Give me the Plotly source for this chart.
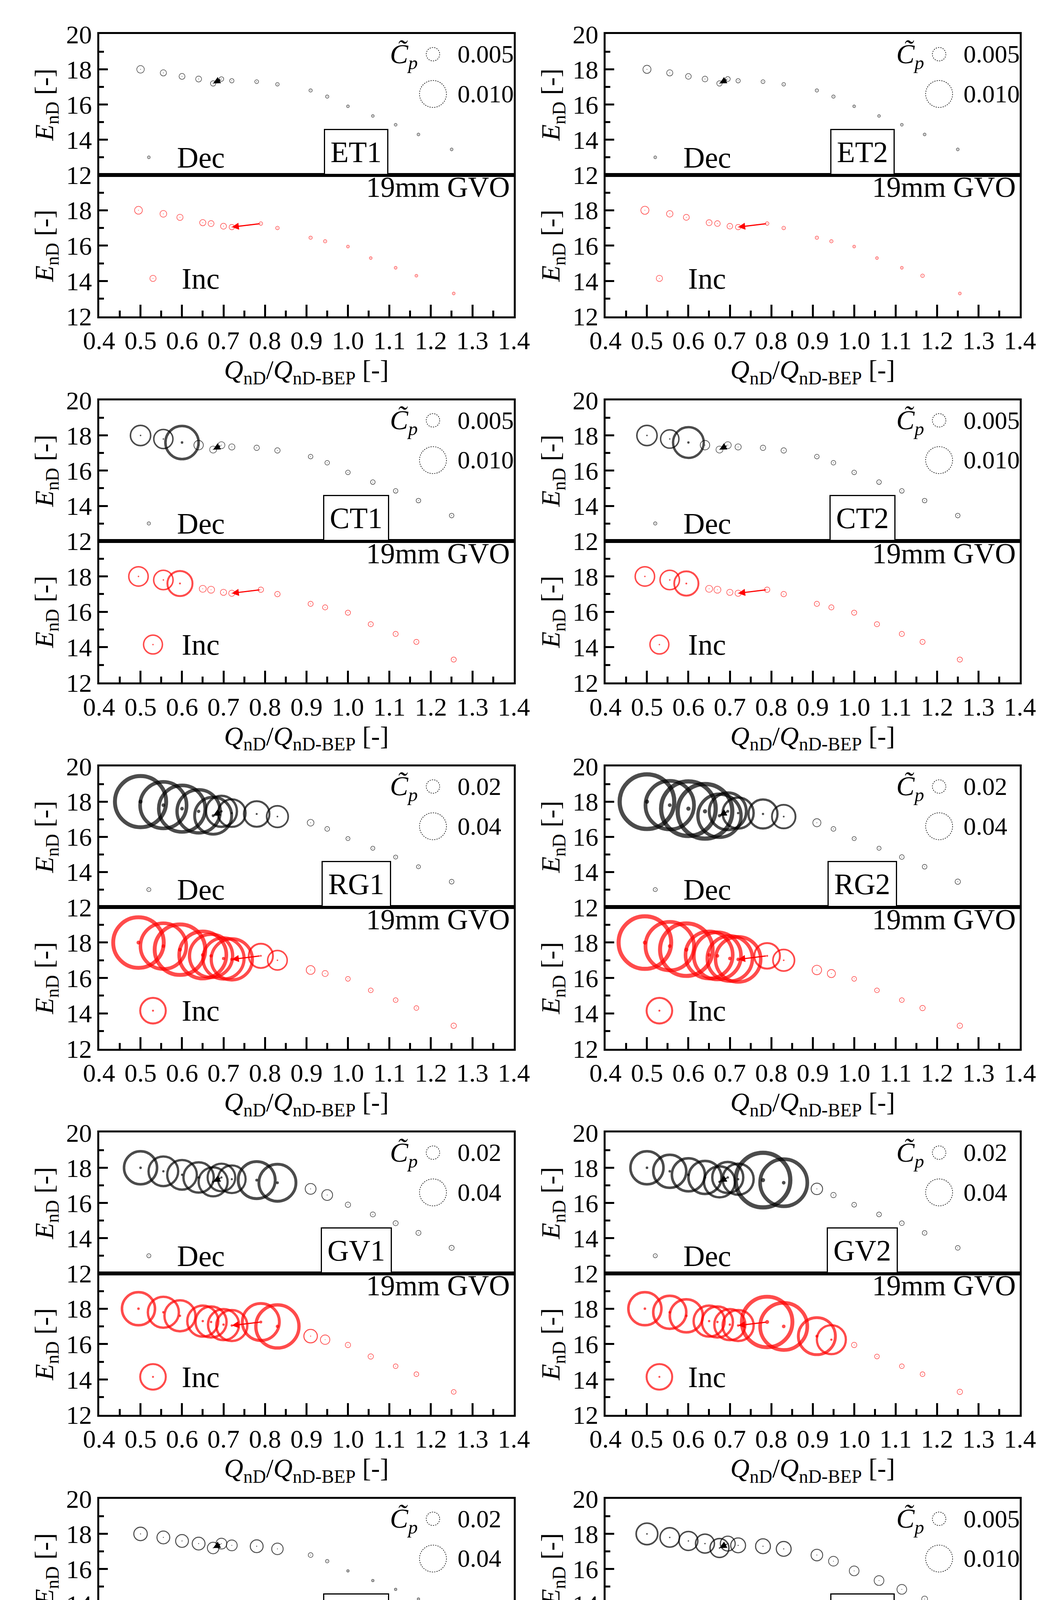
import plotly.graph_objects as go

W, H = 2690, 5697
FONT = "Liberation Serif"

# ---------------- data ----------------
panel_names = ["ET1", "ET2", "CT1", "CT2", "RG1", "RG2", "GV1", "GV2", "SV1", "SC1", "TC1", "BS1"]
legend_low = ["0.005", "0.005", "0.005", "0.005", "0.02", "0.02", "0.02", "0.02", "0.02", "0.005", "0.005", "0.005"]
legend_high = ["0.010", "0.010", "0.010", "0.010", "0.04", "0.04", "0.04", "0.04", "0.04", "0.010", "0.010", "0.010"]
legend_low_val = [0.005, 0.005, 0.005, 0.005, 0.02, 0.02, 0.02, 0.02, 0.02, 0.005, 0.005, 0.005]
legend_high_val = [0.010, 0.010, 0.010, 0.010, 0.04, 0.04, 0.04, 0.04, 0.04, 0.010, 0.010, 0.010]

q_dec = [0.50, 0.555, 0.60, 0.64, 0.675, 0.695, 0.72, 0.78, 0.83, 0.91, 0.95, 1.00, 1.06, 1.115, 1.17, 1.25]
e_dec = [18.0, 17.8, 17.6, 17.45, 17.2, 17.45, 17.35, 17.3, 17.15, 16.8, 16.45, 15.9, 15.35, 14.85, 14.3, 13.45]
q_inc = [0.495, 0.555, 0.595, 0.65, 0.67, 0.70, 0.72, 0.79, 0.83, 0.91, 0.945, 1.00, 1.055, 1.115, 1.165, 1.255]
e_inc = [18.0, 17.8, 17.6, 17.3, 17.25, 17.1, 17.05, 17.25, 17.0, 16.45, 16.25, 15.95, 15.3, 14.75, 14.3, 13.3]

cp_dec_ET1 = [0.0028, 0.0023, 0.0022, 0.0022, 0.0020, 0.0017, 0.0016, 0.0014, 0.0013, 0.0012, 0.0012, 0.0010, 0.0010, 0.0010, 0.0010, 0.0010]
cp_inc_ET1 = [0.0029, 0.0025, 0.0023, 0.0023, 0.0022, 0.0022, 0.0020, 0.0013, 0.0013, 0.0012, 0.0012, 0.0010, 0.0010, 0.0010, 0.0010, 0.0010]
cp_dec_ET2 = [0.0030, 0.0023, 0.0021, 0.0021, 0.0020, 0.0018, 0.0016, 0.0014, 0.0013, 0.0012, 0.0012, 0.0010, 0.0010, 0.0010, 0.0010, 0.0010]
cp_inc_ET2 = [0.0030, 0.0024, 0.0022, 0.0022, 0.0021, 0.0021, 0.0020, 0.0013, 0.0013, 0.0012, 0.0012, 0.0010, 0.0010, 0.0010, 0.0013, 0.0010]
cp_dec_CT1 = [0.0075, 0.0071, 0.0123, 0.0035, 0.0026, 0.0026, 0.0023, 0.0020, 0.0020, 0.0017, 0.0017, 0.0017, 0.0017, 0.0017, 0.0017, 0.0017]
cp_inc_CT1 = [0.0072, 0.0072, 0.0093, 0.0026, 0.0026, 0.0023, 0.0023, 0.0020, 0.0020, 0.0019, 0.0019, 0.0019, 0.0019, 0.0019, 0.0019, 0.0019]
cp_dec_CT2 = [0.0075, 0.0068, 0.0114, 0.0035, 0.0026, 0.0026, 0.0023, 0.0020, 0.0020, 0.0017, 0.0017, 0.0017, 0.0017, 0.0017, 0.0017, 0.0017]
cp_inc_CT2 = [0.0072, 0.0072, 0.0090, 0.0026, 0.0026, 0.0023, 0.0023, 0.0020, 0.0020, 0.0019, 0.0019, 0.0019, 0.0019, 0.0019, 0.0019, 0.0019]
cp_dec_RG1 = [0.076, 0.069, 0.069, 0.064, 0.055, 0.046, 0.041, 0.038, 0.032, 0.010, 0.007, 0.006, 0.006, 0.006, 0.006, 0.007]
cp_inc_RG1 = [0.075, 0.068, 0.075, 0.070, 0.064, 0.061, 0.061, 0.036, 0.029, 0.013, 0.009, 0.007, 0.007, 0.007, 0.007, 0.008]
cp_dec_RG2 = [0.081, 0.072, 0.081, 0.081, 0.064, 0.055, 0.046, 0.043, 0.035, 0.012, 0.007, 0.006, 0.006, 0.007, 0.007, 0.008]
cp_inc_RG2 = [0.078, 0.072, 0.078, 0.070, 0.070, 0.067, 0.067, 0.038, 0.032, 0.014, 0.012, 0.007, 0.007, 0.007, 0.008, 0.008]
cp_dec_GV1 = [0.049, 0.044, 0.044, 0.045, 0.043, 0.041, 0.041, 0.055, 0.055, 0.016, 0.016, 0.008, 0.0075, 0.0075, 0.0075, 0.0075]
cp_inc_GV1 = [0.049, 0.046, 0.046, 0.046, 0.046, 0.046, 0.046, 0.055, 0.064, 0.020, 0.014, 0.008, 0.008, 0.007, 0.007, 0.007]
cp_dec_GV2 = [0.049, 0.049, 0.049, 0.049, 0.046, 0.046, 0.046, 0.081, 0.070, 0.017, 0.008, 0.007, 0.007, 0.007, 0.007, 0.007]
cp_inc_GV2 = [0.049, 0.049, 0.049, 0.046, 0.046, 0.046, 0.046, 0.075, 0.070, 0.055, 0.043, 0.008, 0.007, 0.007, 0.007, 0.008]
cp_dec_SV1 = [0.020, 0.019, 0.019, 0.019, 0.017, 0.016, 0.016, 0.019, 0.017, 0.007, 0.005, 0.0035, 0.0035, 0.0035, 0.0035, 0.0035]
cp_inc_SV1 = [0.020, 0.020, 0.020, 0.019, 0.019, 0.019, 0.023, 0.023, 0.020, 0.017, 0.013, 0.005, 0.0035, 0.0035, 0.0035, 0.0035]
cp_dec_SC1 = [0.0080, 0.0072, 0.0070, 0.0070, 0.0070, 0.0055, 0.0055, 0.0055, 0.0055, 0.0043, 0.0036, 0.0036, 0.0036, 0.0036, 0.0022, 0.0017]
cp_inc_SC1 = [0.0080, 0.0072, 0.0072, 0.0070, 0.0070, 0.0065, 0.0065, 0.0058, 0.0051, 0.0043, 0.0041, 0.0036, 0.0036, 0.0036, 0.0036, 0.0020]
cp_dec_TC1 = [0.0058, 0.0055, 0.0051, 0.0048, 0.0043, 0.0041, 0.0036, 0.0036, 0.0029, 0.0026, 0.0020, 0.0020, 0.0020, 0.0020, 0.0014, 0.0014]
cp_inc_TC1 = [0.0058, 0.0055, 0.0055, 0.0043, 0.0043, 0.0041, 0.0041, 0.0036, 0.0026, 0.0036, 0.0032, 0.0017, 0.0020, 0.0023, 0.0023, 0.0017]
cp_dec_BS1 = [0.0080, 0.0075, 0.0072, 0.0070, 0.0065, 0.0055, 0.0051, 0.0046, 0.0043, 0.0036, 0.0032, 0.0032, 0.0032, 0.0032, 0.0022, 0.0020]
cp_inc_BS1 = [0.0080, 0.0072, 0.0070, 0.0065, 0.0061, 0.0058, 0.0058, 0.0051, 0.0036, 0.0036, 0.0032, 0.0032, 0.0032, 0.0032, 0.0032, 0.0020]

cp_dec = [cp_dec_ET1, cp_dec_ET2, cp_dec_CT1, cp_dec_CT2, cp_dec_RG1, cp_dec_RG2,
          cp_dec_GV1, cp_dec_GV2, cp_dec_SV1, cp_dec_SC1, cp_dec_TC1, cp_dec_BS1]
cp_inc = [cp_inc_ET1, cp_inc_ET2, cp_inc_CT1, cp_inc_CT2, cp_inc_RG1, cp_inc_RG2,
          cp_inc_GV1, cp_inc_GV2, cp_inc_SV1, cp_inc_SC1, cp_inc_TC1, cp_inc_BS1]
cp_dec_key = [0.0010, 0.0010, 0.0012, 0.0012, 0.006, 0.006, 0.006, 0.006, 0.002, 0.0017, 0.0014, 0.0017]
cp_inc_key = [0.0023, 0.0023, 0.0070, 0.0070, 0.038, 0.038, 0.038, 0.038, 0.016, 0.0080, 0.0043, 0.0080]

# arrows (from -> to)
arrow_dec = [(0.695, 17.45), (0.675, 17.2)]
arrow_inc = [(0.79, 17.25), (0.72, 17.05)]

x_ticks = [0.4, 0.5, 0.6, 0.7, 0.8, 0.9, 1.0, 1.1, 1.2, 1.3, 1.4]
y_ticks_top = [12, 14, 16, 18, 20]
y_ticks_bot = [12, 14, 16, 18]

# ---------------- figure ----------------
fig = go.Figure()
lay = {}
annotations = []
shapes = []
PANEL_H = H / 6.0
LEGEND_D = 69.0  # px diameter of high legend bubble


def ax_name(n, letter):
    return letter + ("" if n == 1 else str(n))


def add_bubbles(xr, yr, xs, ys, cps, scale, color):
    d = [max(3.0, c * scale) for c in cps]
    lw = [max(1.5, v / 13.0) for v in d]
    fig.add_trace(go.Scatter(x=xs, y=ys, mode="markers", xaxis=xr, yaxis=yr, showlegend=False,
                             marker=dict(size=d, sizemode="diameter", color="rgba(0,0,0,0)",
                                         line=dict(color=color, width=lw))))
    fig.add_trace(go.Scatter(x=xs, y=ys, mode="markers", xaxis=xr, yaxis=yr, showlegend=False,
                             marker=dict(size=[max(2.0, v / 13.0) for v in d], color=color, line=dict(width=0))))


for p, name in enumerate(panel_names):
    r, c = divmod(p, 2)
    top = r * PANEL_H
    if c == 0:
        x0, x1 = 211, 1306
    else:
        x0, x1 = 1548, 2642
    nt, nb = 2 * p + 1, 2 * p + 2
    xd = [x0 / W, x1 / W]
    yd_t = [1 - (top + 409) / H, 1 - (top + 44) / H]
    yd_b = [1 - (top + 776) / H, 1 - (top + 409) / H]
    scale = LEGEND_D / legend_high_val[p]

    common_y = dict(range=[12, 20], showline=True, linewidth=5, linecolor="black", mirror=True,
                    ticks="inside", ticklen=22, tickwidth=5, tickcolor="black",
                    showgrid=False, zeroline=False,
                    tickfont=dict(family=FONT, size=66, color="black"),
                    minor=dict(dtick=1, tick0=12, ticks="inside", ticklen=12, tickwidth=5, tickcolor="black"),
                    title=dict(text="<i>E</i><sub>nD</sub> [-]", font=dict(family=FONT, size=68, color="black"),
                               standoff=12))
    lay["yaxis" + ("" if nt == 1 else str(nt))] = dict(common_y, domain=yd_t, anchor=ax_name(nt, "x"),
                                                       tickvals=y_ticks_top)
    lay["yaxis" + str(nb)] = dict(common_y, domain=yd_b, anchor=ax_name(nb, "x"), tickvals=y_ticks_bot)
    lay["xaxis" + ("" if nt == 1 else str(nt))] = dict(domain=xd, range=[0.4, 1.4], anchor=ax_name(nt, "y"),
                                                       showline=True, linewidth=5, linecolor="black", mirror=True,
                                                       showticklabels=False, ticks="", showgrid=False, zeroline=False)
    lay["xaxis" + str(nb)] = dict(domain=xd, range=[0.4, 1.4], anchor=ax_name(nb, "y"),
                                  showline=True, linewidth=5, linecolor="black", mirror=True,
                                  tickvals=x_ticks, ticktext=[f"{v:.1f}" for v in x_ticks],
                                  ticks="inside", ticklen=30, tickwidth=5, tickcolor="black",
                                  minor=dict(dtick=0.1, tick0=0.45, ticks="inside", ticklen=15, tickwidth=5,
                                             tickcolor="black"),
                                  showgrid=False, zeroline=False,
                                  tickfont=dict(family=FONT, size=66, color="black"),
                                  title=dict(text="<i>Q</i><sub>nD</sub>/<i>Q</i><sub>nD-BEP</sub> [-]",
                                             font=dict(family=FONT, size=68, color="black"), standoff=8))

    xt, yt = ax_name(nt, "x"), ax_name(nt, "y")
    xb, yb = ax_name(nb, "x"), ax_name(nb, "y")

    add_bubbles(xt, yt, q_dec, e_dec, cp_dec[p], scale, "black")
    add_bubbles(xb, yb, q_inc, e_inc, cp_inc[p], scale, "#ff0000")
    add_bubbles(xt, yt, [0.52], [13.0], [cp_dec_key[p]], scale, "black")
    add_bubbles(xb, yb, [0.53], [14.15], [cp_inc_key[p]], scale, "#ff0000")

    # arrows
    annotations.append(dict(xref=xt, yref=yt, axref=xt, ayref=yt, x=arrow_dec[1][0], y=arrow_dec[1][1],
                            ax=arrow_dec[0][0], ay=arrow_dec[0][1], showarrow=True, arrowhead=2,
                            arrowsize=1.2, arrowwidth=3, arrowcolor="black", text=" "))
    annotations.append(dict(xref=xb, yref=yb, axref=xb, ayref=yb, x=arrow_inc[1][0], y=arrow_inc[1][1],
                            ax=arrow_inc[0][0], ay=arrow_inc[0][1], showarrow=True, arrowhead=2,
                            arrowsize=1.2, arrowwidth=3, arrowcolor="#ff0000", text=" "))

    txt = dict(family=FONT, size=76, color="black")
    annotations.append(dict(xref=xt, yref=yt, x=0.645, y=13.0, text="Dec", showarrow=False, font=txt))
    annotations.append(dict(xref=xb, yref=yb, x=0.645, y=14.15, text="Inc", showarrow=False, font=txt))
    annotations.append(dict(xref=xb, yref=yb, x=1.392, y=19.3, text="19mm GVO", showarrow=False,
                            xanchor="right", font=dict(family=FONT, size=74, color="black")))
    annotations.append(dict(xref=xt, yref=yt, x=1.02, y=12.0, yanchor="bottom", text=name, showarrow=False,
                            font=txt, bordercolor="black", borderwidth=3, borderpad=14, bgcolor="white"))
    # Cp legend
    annotations.append(dict(xref=xt, yref=yt, x=1.135, y=18.75, text="<i>C\u0303</i><sub><i>p</i></sub>",
                            showarrow=False, font=dict(family=FONT, size=70, color="black")))
    annotations.append(dict(xref=xt, yref=yt, x=1.262, y=18.86, text=legend_low[p], showarrow=False,
                            xanchor="left", font=dict(family=FONT, size=64, color="black")))
    annotations.append(dict(xref=xt, yref=yt, x=1.262, y=16.6, text=legend_high[p], showarrow=False,
                            xanchor="left", font=dict(family=FONT, size=64, color="black")))
    for yy, val in ((18.86, legend_low_val[p]), (16.6, legend_high_val[p])):
        dd = val * scale / 2
        shapes.append(dict(type="circle", xref=xt, yref=yt, xsizemode="pixel", ysizemode="pixel",
                           xanchor=1.205, yanchor=yy, x0=-dd, x1=dd, y0=-dd, y1=dd,
                           line=dict(color="black", width=1.5, dash="dot")))

fig.update_layout(**lay)
fig.update_layout(width=W, height=H, margin=dict(l=0, r=0, t=0, b=0),
                  paper_bgcolor="white", plot_bgcolor="white",
                  annotations=annotations, shapes=shapes, showlegend=False)
fig.write_html("out.html")
